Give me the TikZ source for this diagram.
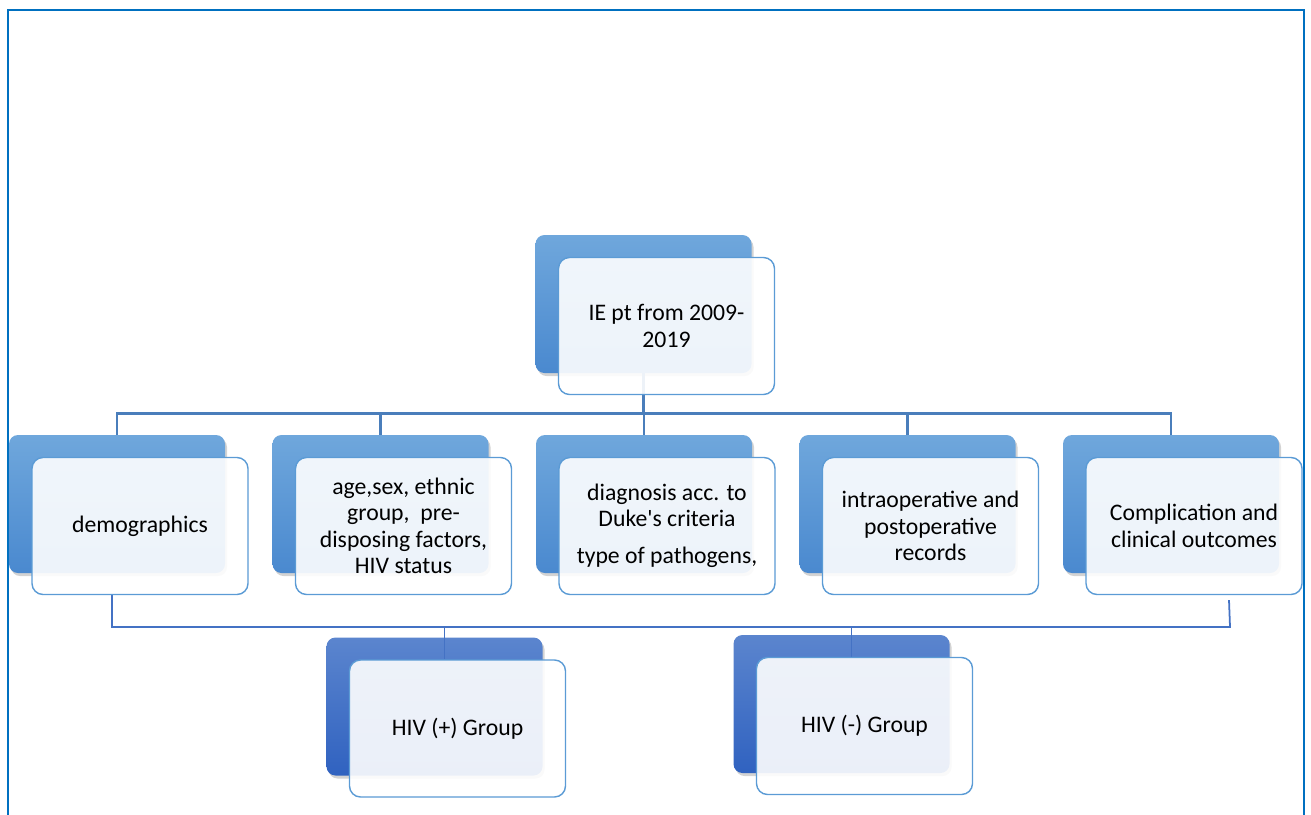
\documentclass[tikz,border=0pt]{standalone}
\usepackage{fontspec}
\setmainfont{Carlito}
\usetikzlibrary{shadows}
\def\colsep{5.27cm}
\definecolor{frameblue}{HTML}{0070C0}
\definecolor{linkblue}{HTML}{4A7EBB}
\definecolor{grouplink}{HTML}{4472C4}
\definecolor{edgeblue}{HTML}{5B9BD5}
\definecolor{backtop}{HTML}{6FA7DC}
\definecolor{backbot}{HTML}{4A89CF}
\definecolor{grouptop}{HTML}{5B85CE}
\definecolor{groupbot}{HTML}{3062C0}
\pgfdeclarelayer{boxes}
\pgfdeclarelayer{links}
\pgfsetlayers{boxes,links,main}

\begin{document}
\begin{tikzpicture}[font=\fontsize{13.5}{15}\selectfont]
	\tikzstyle{back box}=[rounded corners=0.18cm, minimum width=4.32cm, minimum height=2.76cm, inner sep=0pt,
		top color=backtop, bottom color=backbot,
		drop shadow={opacity=0.35, shadow xshift=0.04cm, shadow yshift=-0.06cm}]
	\tikzstyle{group box}=[back box, top color=grouptop, bottom color=groupbot]
	\tikzstyle{front box}=[rounded corners=0.22cm, draw=edgeblue, line width=0.8pt, fill=white, fill opacity=0.9,
		text opacity=1, minimum width=4.32cm, minimum height=2.74cm, inner sep=0pt, align=center,
		xshift=0.46cm, yshift=-0.44cm]
	\tikzstyle{link}=[draw=linkblue, line width=1.6pt]
	\tikzstyle{group link}=[draw=grouplink, line width=1pt]

	\clip (0,0) rectangle (26.22,-16.28);

	% Frame
	\draw[frameblue, line width=1.2pt] (0.16,-16.6) -- (0.16,-0.2) -- (26.08,-0.2) -- (26.08,-16.6);

	% Draw back boxes
	\begin{pgfonlayer}{boxes}
	\node[back box] (B-0) at (12.87,-6.08) {};
	\foreach \name in {1,...,5}
	\node[back box] (B-\name) at (2.34cm+\name*\colsep-\colsep,-10.08) {};
	\node[group box] (G-1) at (8.69,-14.13) {};
	\node[group box] (G-2) at (16.83,-14.08) {};
	\end{pgfonlayer}

	% Draw front boxes
	\node[front box] (F-0) at (B-0) {IE pt from 2009-\\2019};
	\node[front box] (F-1) at (B-1) {demographics};
	\node[front box] (F-2) at (B-2) {age,sex, ethnic\\group,\ \ pre-\\disposing factors,\\HIV status};
	\node[front box] (F-3) at (B-3) {diagnosis acc. to\\Duke\textquotesingle s criteria\\[6pt]type of pathogens,};
	\node[front box] (F-4) at (B-4) {intraoperative and\\postoperative\\records};
	\node[front box] (F-5) at (B-5) {Complication and\\clinical outcomes};
	\node[front box] (GF-1) at (G-1) {HIV (+) Group};
	\node[front box] (GF-2) at (G-2) {HIV (-) Group};

	% Connect top box and rows
	\begin{pgfonlayer}{links}
	\foreach \dest in {1,...,5}
	\path[link] (B-0.south) -- ++(0,-0.8) -| (B-\dest.north);

	% Connect rows and groups
	\coordinate (bus-l) at (2.24,-12.54);
	\coordinate (bus-r) at (24.6,-12.54);
	\path[group link] ([xshift=-0.56cm]F-1.south) -- (bus-l) -- (bus-r) -- ([xshift=0.7cm,yshift=-0.1cm]F-5.south);
	\foreach \dest in {1,2}
	\path[group link] ([xshift=-0.26cm]GF-\dest.north |- bus-l) -- ([xshift=-0.26cm]GF-\dest.north);
	\end{pgfonlayer}
\end{tikzpicture}
\end{document}
